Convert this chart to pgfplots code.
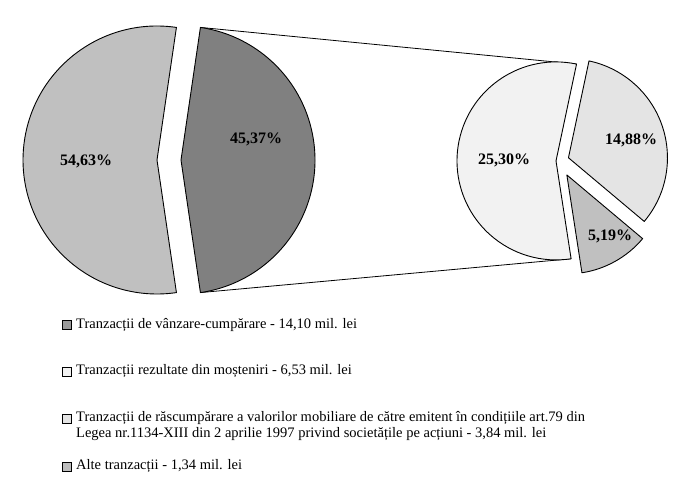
\documentclass[border=0pt]{standalone}
\usepackage{fontspec}
\setmainfont{Liberation Serif}
\usepackage{pgfplots}
\pgfplotsset{compat=1.18}
\usepackage{pgfplotstable}
\usetikzlibrary{calc}

\definecolor{gA}{HTML}{C0C0C0}
\definecolor{gB}{HTML}{808080}
\definecolor{gC}{HTML}{F2F2F2}
\definecolor{gD}{HTML}{E4E4E4}
\definecolor{gE}{HTML}{C0C0C0}
\definecolor{lA}{HTML}{9A9A9A}
\definecolor{lD}{HTML}{BDBDBD}

% main pie: vanzare-cumparare vs. rest
\pgfplotstableread{
value
54.63
45.37
}\mainpie
% secondary pie: breakdown of the 45.37 %
\pgfplotstableread{
value
25.30
14.88
5.19
}\subpie

\begin{document}
\begin{tikzpicture}
\pgfplotstablegetelem{0}{value}\of\mainpie \let\vA\pgfplotsretval
\pgfplotstablegetelem{1}{value}\of\mainpie \let\vB\pgfplotsretval
\pgfplotstablegetelem{0}{value}\of\subpie \let\vC\pgfplotsretval
\pgfplotstablegetelem{1}{value}\of\subpie \let\vD\pgfplotsretval
\pgfplotstablegetelem{2}{value}\of\subpie \let\vE\pgfplotsretval
\pgfmathsetmacro\hB{\vB/(\vA+\vB)*180}
\pgfmathsetmacro\eA{360-\hB}
\pgfmathsetmacro\tot{\vC+\vD+\vE}
\pgfmathsetmacro\aC{\vC/\tot*360}
\pgfmathsetmacro\aD{\vD/\tot*360}
\pgfmathsetmacro\aE{\vE/\tot*360}
\pgfmathsetmacro\sC{178.4-\aC/2}
\pgfmathsetmacro\eC{\sC+\aC}
\pgfmathsetmacro\eE{\eC+\aE}
\pgfmathsetmacro\eD{\eE+\aD}
\pgfmathsetmacro\mE{(\eC+\eE)/2}
\pgfmathsetmacro\mD{(\eE+\eD)/2}
\begin{axis}[x=1pt,y=1pt,xmin=0,xmax=683,ymin=0,ymax=478,y dir=reverse,
  hide axis,clip=false,anchor=north west,at={(0,0)}]
% connector lines
\draw[line width=0.8pt] ($(axis cs:169,160)+(0:12pt)+(\hB:134pt)$) -- ($(axis cs:559,161)+(178.4:3pt)+(\sC:99pt)$);
\draw[line width=0.8pt] ($(axis cs:169,160)+(0:12pt)+(-\hB:134pt)$) -- ($(axis cs:559,161)+(178.4:3pt)+(\eC:99pt)$);
% main pie
\filldraw[fill=gA,draw=black,line width=0.9pt,line join=round]
  ($(axis cs:169,160)+(180:12pt)$) -- ++(\hB:134pt) arc[start angle=\hB,end angle=\eA,radius=134pt] -- cycle;
\filldraw[fill=gB,draw=black,line width=0.9pt,line join=round]
  ($(axis cs:169,160)+(0:12pt)$) -- ++(-\hB:134pt) arc[start angle=-\hB,end angle=\hB,radius=134pt] -- cycle;
% secondary pie
\filldraw[fill=gC,draw=black,line width=0.9pt,line join=round]
  ($(axis cs:559,161)+(178.4:3pt)$) -- ++(\sC:99pt) arc[start angle=\sC,end angle=\eC,radius=99pt] -- cycle;
\filldraw[fill=gE,draw=black,line width=0.9pt,line join=round]
  ($(axis cs:559,161)+(\mE:16pt)$) -- ++(\eC:99pt) arc[start angle=\eC,end angle=\eE,radius=99pt] -- cycle;
\filldraw[fill=gD,draw=black,line width=0.9pt,line join=round]
  ($(axis cs:559,161)+(\mD:10pt)$) -- ++(\eE:99pt) arc[start angle=\eE,end angle=\eD,radius=99pt] -- cycle;
% slice labels
\tikzset{plab/.style={font=\bfseries\fontsize{16}{18}\selectfont,inner sep=0pt}}
\node[plab] at (axis cs:86,161) {54,63\%};
\node[plab] at (axis cs:256,139) {45,37\%};
\node[plab] at (axis cs:504,160) {25,30\%};
\node[plab] at (axis cs:631,140) {14,88\%};
\node[plab] at (axis cs:610,236) {5,19\%};
% legend
\tikzset{lbox/.style={draw=black,line width=0.7pt},
  ltxt/.style={anchor=west,inner sep=0pt,font=\fontsize{14.5}{16}\selectfont,align=left}}
\filldraw[lbox,fill=lA] (axis cs:62,320) rectangle (axis cs:71,329);
\node[ltxt] at (axis cs:76,324.5) {Tranzacții de vânzare-cumpărare - 14,10 mil. lei};
\filldraw[lbox,fill=gC] (axis cs:62,367) rectangle (axis cs:71,376);
\node[ltxt] at (axis cs:76,371.5) {Tranzacții rezultate din moșteniri - 6,53 mil. lei};
\filldraw[lbox,fill=gD] (axis cs:62,414) rectangle (axis cs:71,423);
\node[ltxt,anchor=north west] at (axis cs:76,411) {Tranzacții de răscumpărare a valorilor mobiliare de către emitent în condițiile art.79 din\\Legea nr.1134-XIII din 2 aprilie 1997 privind societățile pe acțiuni - 3,84 mil. lei};
\filldraw[lbox,fill=lD] (axis cs:62,462) rectangle (axis cs:71,471);
\node[ltxt] at (axis cs:76,466.5) {Alte tranzacții - 1,34 mil. lei};
\end{axis}
\pgfresetboundingbox
\useasboundingbox (0,0) rectangle (683pt,-478pt);
\end{tikzpicture}
\end{document}
